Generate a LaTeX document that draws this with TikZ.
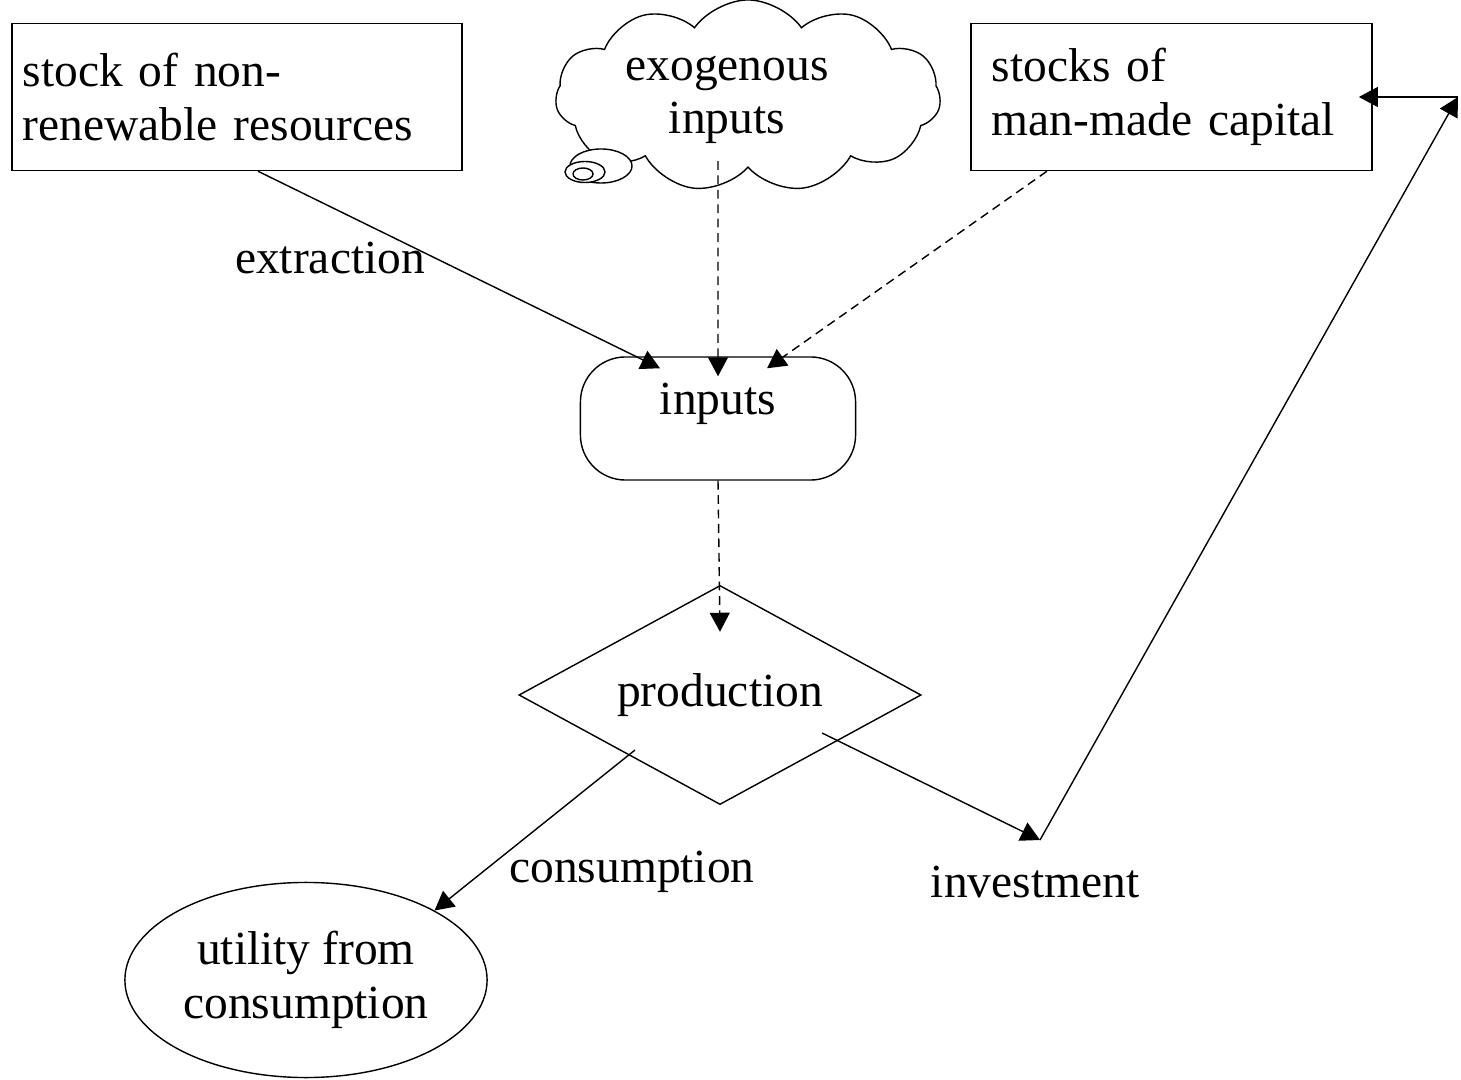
\documentclass[tikz,border=0pt]{standalone}
\usepackage{fontspec}
\setmainfont{Liberation Serif}
\usepackage{tikz}
\usetikzlibrary{shapes.geometric, shapes.symbols, arrows.meta}
\tikzstyle{stock} = [rectangle, draw=black, align=left, minimum height=1.47cm, inner xsep=0.11cm]
\tikzstyle{exog} = [cloud, cloud puffs=11, cloud puff arc=110, draw=black, minimum width=3.85cm, minimum height=1.92cm]
\tikzstyle{bubble} = [ellipse, draw=black, fill=white, inner sep=0pt]
\tikzstyle{pool} = [rectangle, rounded corners=0.45cm, draw=black, minimum width=2.75cm, text height=0.48cm, text depth=0.55cm, inner ysep=0.1cm]
\tikzstyle{process} = [diamond, draw=black, minimum width=4.02cm, minimum height=2.19cm, aspect=1.84, inner sep=0pt]
\tikzstyle{goal} = [ellipse, draw=black, minimum width=3.62cm, minimum height=1.95cm, inner sep=0pt, align=center]
\tikzstyle{arrow} = [->, >={Triangle[length=0.19cm, width=0.2cm]}]
\tikzstyle{dasharrow} = [arrow, dash pattern=on 2.5pt off 1.6pt]

\begin{document}
\begin{tikzpicture}[x=0.01cm, y=-0.01cm, font=\fontsize{13.5}{15.2}\selectfont]
\useasboundingbox (0,0) rectangle (1461,1080);

\node (resources) [stock, text width=4.28cm] at (237,97)
   {stock of non-\\renewable resources};
\node (cloud) [exog] at (748,96) {};
\node (bigbubble) [bubble, minimum width=0.62cm, minimum height=0.34cm] at (601,166) {};
\node (midbubble) [bubble, minimum width=0.4cm, minimum height=0.21cm] at (585,172) {};
\node (smallbubble) [bubble, minimum width=0.2cm, minimum height=0.12cm] at (583,174) {};
\node (exo) [align=center] at (727,100) {exogenous\\inputs};
\node (capital) [stock, text width=3.59cm, inner xsep=0.21cm] at (1171.5,97)
   {stocks of\\man-made capital};
\node (inputs) [pool] at (718,418.5) {inputs};
\node (production) [process] at (720,695) {production};
\node (utility) [goal] at (306,980) {utility from\\consumption};

\node (lblext) at (330,258) {extraction};
\node (lblcons) at (632,872) {consumption};
\node (lblinv) at (1035,882) {investment};

\coordinate (inv) at (1040,840);
\coordinate (corner) at (1458,97);

\draw [arrow] ([xshift=0.21cm]resources.south) -- ([xshift=-0.58cm,yshift=-0.12cm]inputs.north);
\draw [dasharrow] ([xshift=-0.3cm,yshift=-0.65cm]cloud.center) -- ([yshift=-0.2cm]inputs.north);
\draw [dasharrow] ([xshift=-1.245cm]capital.south) -- ([xshift=0.49cm,yshift=-0.12cm]inputs.north);
\draw [dasharrow] (inputs.south) -- ([yshift=-0.47cm]production.north);
\draw [arrow] ([xshift=-0.85cm,yshift=-0.55cm]production.center) -- (utility.north east);
\draw [arrow] ([xshift=1.02cm,yshift=-0.38cm]production.center) -- (inv);
\draw [arrow] (inv) -- (corner);
\draw [arrow] (corner) -- ([xshift=-0.14cm]capital.east);

\end{tikzpicture}
\end{document}
